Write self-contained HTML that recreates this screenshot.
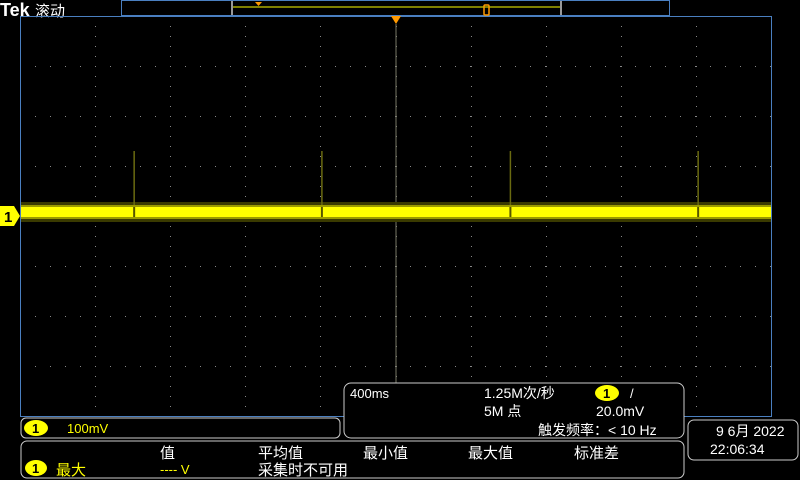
<!DOCTYPE html>
<html><head><meta charset="utf-8"><style>
html,body{margin:0;padding:0;background:#000;width:800px;height:480px;overflow:hidden}
svg{display:block}
text{font-family:"Liberation Sans","Noto Sans CJK SC",sans-serif}
</style></head><body>
<svg id="scope" width="800" height="480" xmlns="http://www.w3.org/2000/svg">
<rect width="800" height="480" fill="#000"/>
<text x="0" y="16" fill="#fff" font-size="18" font-weight="bold" font-family="Liberation Serif">Tek</text>
<text x="35" y="16" fill="#fff" font-size="15">滚动</text>
<g>
<rect x="121.5" y="0.5" width="548" height="15" fill="none" stroke="#4a7fc0" stroke-width="1"/>
<line x1="232" y1="7" x2="560" y2="7" stroke="#ffff00" stroke-width="1"/>
<rect x="231" y="1" width="2" height="14" fill="#999"/>
<rect x="560" y="1" width="2" height="14" fill="#999"/>
<polygon points="255,2 262,2 258.5,6" fill="#ff9900"/>
<rect x="484" y="5" width="5" height="10" rx="1" fill="none" stroke="#ff9900" stroke-width="1.5"/>
</g>
<g id="grid"></g>
<rect x="20.5" y="16.5" width="751" height="400" fill="none" stroke="#4a7fc0" stroke-width="1"/>
<polygon points="391,16 401,16 396,24" fill="#ff9900"/>
<g id="trace"></g>
<g>
<polygon points="0,206 14,206 20,216 14,226 0,226" fill="#ffff00"/>
<text x="4" y="222" font-size="15" font-weight="bold" fill="#000">1</text>
</g>
<g>
<rect x="21" y="418" width="319" height="20" rx="5" fill="#000" stroke="#ccc" stroke-width="1"/>
<ellipse cx="36" cy="428" rx="12" ry="8" fill="#ffff00"/>
<text x="32" y="433" font-size="13" fill="#000" font-weight="bold">1</text>
<text x="67" y="433" font-size="13" fill="#ffff00">100mV</text>
</g>
<g>
<rect x="344" y="383" width="340" height="55" rx="7" fill="#000" stroke="#ccc" stroke-width="1"/>
<text x="350" y="398" font-size="13" fill="#fff">400ms</text>
<text x="484" y="398" font-size="14" fill="#fff">1.25M次/秒</text>
<ellipse cx="607" cy="393" rx="12" ry="8" fill="#ffff00"/>
<text x="603" y="398" font-size="13" fill="#000" font-weight="bold">1</text>
<text x="630" y="398" font-size="13" fill="#fff">/</text>
<text x="484" y="416" font-size="14" fill="#fff">5M 点</text>
<text x="596" y="416" font-size="14" fill="#fff">20.0mV</text>
<text x="538" y="435" font-size="14" fill="#fff">触发频率：&lt; 10 Hz</text>
</g>
<g>
<rect x="688" y="420" width="110" height="40" rx="6" fill="#000" stroke="#ccc" stroke-width="1"/>
<text x="716" y="436" font-size="14" fill="#fff">9 6月 2022</text>
<text x="710" y="454" font-size="14" fill="#fff">22:06:34</text>
</g>
<g>
<rect x="21" y="441" width="663" height="37" rx="6" fill="#000" stroke="#ccc" stroke-width="1"/>
<text x="160" y="458" font-size="15" fill="#fff">值</text>
<text x="258" y="458" font-size="15" fill="#fff">平均值</text>
<text x="363" y="458" font-size="15" fill="#fff">最小值</text>
<text x="468" y="458" font-size="15" fill="#fff">最大值</text>
<text x="574" y="458" font-size="15" fill="#fff">标准差</text>
<ellipse cx="36" cy="468" rx="11" ry="8" fill="#ffff00"/>
<text x="32" y="473" font-size="13" fill="#000" font-weight="bold">1</text>
<text x="56" y="475" font-size="15" fill="#ffff00">最大</text>
<text x="160" y="474" font-size="13" fill="#ffff00">---- V</text>
<text x="258" y="475" font-size="15" fill="#fff">采集时不可用</text>
</g>
</svg>
<script>
const NS="http://www.w3.org/2000/svg";
// data: time in divisions (0..10) of glitch spikes, spike height in mV above baseline
const spikeTimes=[1.52,4.02,6.53,9.03];
const spikeHeights=[122,122,122,122];
const baselineMv=8;   // trace level relative to center (mV)
const voltsPerDiv=100;
const X0=20,W=751,Y0=16,H=400;
const xs=t=>X0+t*W/10;
const ys=mv=>Y0+H/2-mv/voltsPerDiv*(H/8);
const grid=document.getElementById('grid');
function dot(x,y){const r=document.createElementNS(NS,'rect');r.setAttribute('x',x);r.setAttribute('y',y);r.setAttribute('width',1);r.setAttribute('height',1);r.setAttribute('fill','#888');grid.appendChild(r);}
for(let i=1;i<10;i++){const x=Math.round(xs(i));for(let y=Y0;y<=Y0+H;y+=10)dot(x,y);}
for(let j=1;j<8;j++){const y=Math.round(Y0+j*H/8);for(let x=X0;x<=X0+W;x+=15)dot(x,y);}
const cl=document.createElementNS(NS,'line');cl.setAttribute('x1',396);cl.setAttribute('x2',396);cl.setAttribute('y1',24);cl.setAttribute('y2',416);cl.setAttribute('stroke','#776');cl.setAttribute('stroke-width',1);


grid.appendChild(cl);
const tr=document.getElementById('trace');
const yb=ys(baselineMv);
const g1=document.createElementNS(NS,'rect');g1.setAttribute('x',X0+1);g1.setAttribute('y',yb-10);g1.setAttribute('width',W-1);g1.setAttribute('height',20);g1.setAttribute('fill','#3a3a00');


tr.appendChild(g1);
const g2=document.createElementNS(NS,'rect');g2.setAttribute('x',X0+1);g2.setAttribute('y',yb-7);g2.setAttribute('width',W-1);g2.setAttribute('height',14);g2.setAttribute('fill','#9a9a00');


tr.appendChild(g2);
const g3=document.createElementNS(NS,'rect');g3.setAttribute('x',X0+1);g3.setAttribute('y',yb-5);g3.setAttribute('width',W-1);g3.setAttribute('height',10);g3.setAttribute('fill','#ffff00');


tr.appendChild(g3);
spikeTimes.forEach((t,i)=>{
 const x=xs(t);
 const l=document.createElementNS(NS,'line');
 l.setAttribute('x1',x);l.setAttribute('x2',x);l.setAttribute('y1',ys(baselineMv+spikeHeights[i]));l.setAttribute('y2',yb-7);
 l.setAttribute('stroke','#6a6a10');l.setAttribute('stroke-width',1.5);
 
 
 tr.appendChild(l);
 const d=document.createElementNS(NS,'line');
 d.setAttribute('x1',x);d.setAttribute('x2',x);d.setAttribute('y1',yb-5);d.setAttribute('y2',yb+5);
 d.setAttribute('stroke','#555500');d.setAttribute('stroke-width',2);
 
 
 tr.appendChild(d);
});
</script>
</body></html>
